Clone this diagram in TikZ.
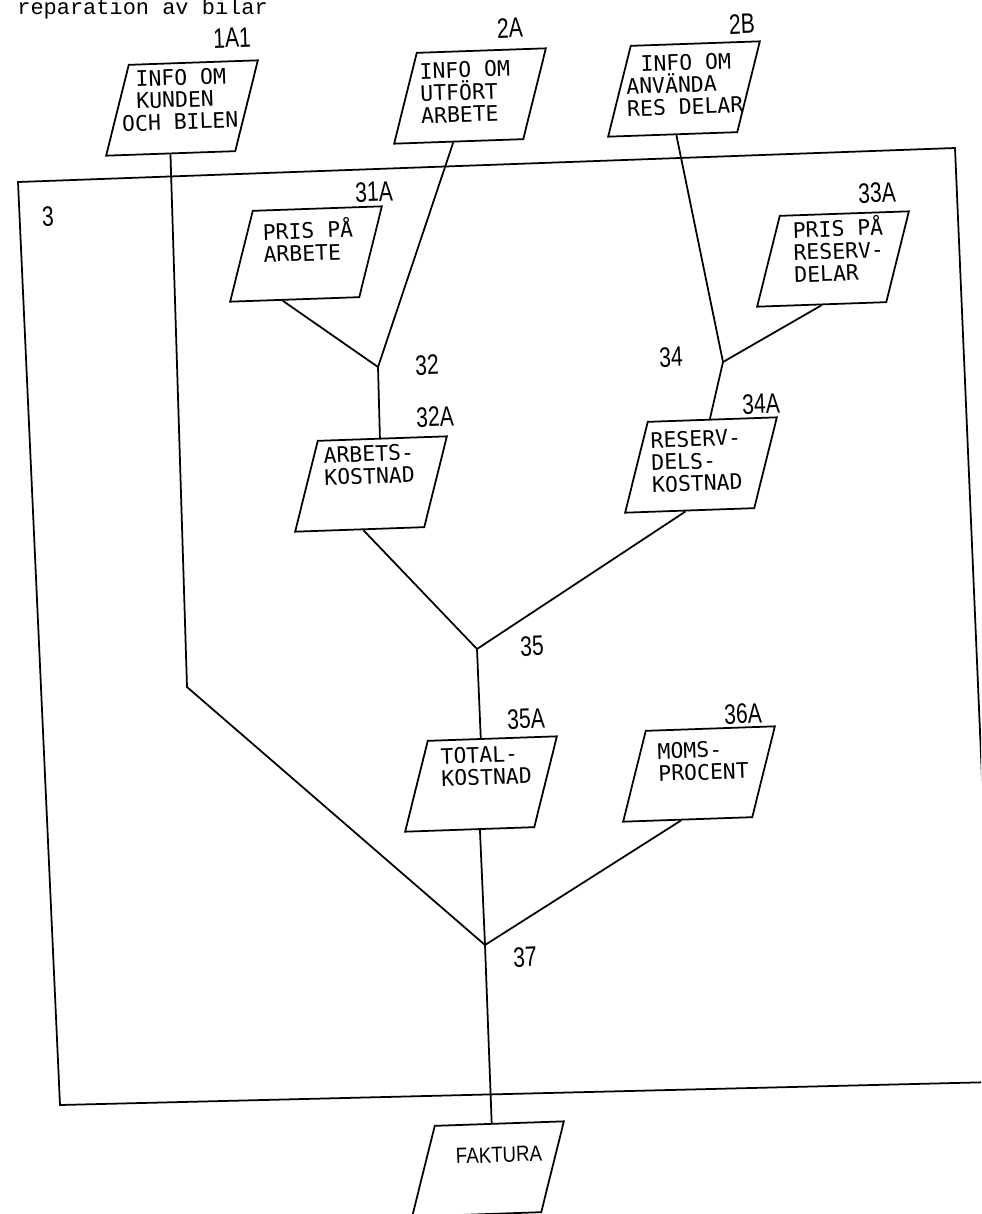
\documentclass[tikz,border=0pt]{standalone}
\usepackage{fontspec}
\usetikzlibrary{shapes.geometric,calc}
\newfontfamily\boxfont{DejaVu Sans Mono}
\newfontfamily\idfont[FakeStretch=0.75]{Liberation Sans}
\newfontfamily\faktfont[FakeStretch=0.85]{Liberation Sans}
\newfontfamily\typefont{Liberation Mono}

\tikzset{
  databox/.style={draw, line width=1pt, shape=trapezium, trapezium left angle=76,
    trapezium right angle=104, trapezium stretches=true,
    minimum width=3.1cm, minimum height=1.8cm, inner sep=2pt, rotate=2},
  boxtext/.style={font=\boxfont\fontsize{12.2}{12.6}\selectfont, align=left,
    anchor=north west, inner sep=0pt, rotate=2},
  idlabel/.style={font=\idfont\fontsize{16}{16}\selectfont, inner sep=0pt, rotate=2},
  flow/.style={line width=1pt},
}

\begin{document}
\begin{tikzpicture}[x=0.02cm,y=-0.02cm]
\useasboundingbox (0,0) rectangle (981,1214);
\clip (0,0) rectangle (981,1214);

% heading, cut off at the top of the page
\node[font=\typefont\fontsize{12.5}{12.5}\selectfont, anchor=base west, inner sep=0pt] (title) at (17,14) {reparation av bilar};

% data boxes
\node[databox] (b1A1) at (182,108) {};
\node[databox] (b2A) at (470,96) {};
\node[databox] (b2B) at (684,89) {};
\node[databox] (b31A) at (306,254) {};
\node[databox] (b33A) at (833,259) {};
\node[databox] (b32A) at (371,484) {};
\node[databox] (b34A) at (701,465) {};
\node[databox] (b35A) at (481,784) {};
\node[databox] (b36A) at (699,774) {};
\node[databox] (bfakt) at (488,1169) {};

\node[boxtext] (t1A1) at (120,71) {\hspace*{0.3cm}INFO OM\\\hspace*{0.3cm}KUNDEN\\OCH BILEN};
\node[boxtext] (t2A) at (419,63) {INFO OM\\UTFÖRT\\ARBETE};
\node[boxtext] (t2B) at (625,56) {\hspace*{0.3cm}INFO OM\\ANVÄNDA\\RES DELAR};
\node[boxtext] (t31A) at (262,220) {PRIS PÅ\\ARBETE};
\node[boxtext] (t33A) at (792,218) {PRIS PÅ\\RESERV-\\DELAR};
\node[boxtext] (t32A) at (323,447) {ARBETS-\\KOSTNAD};
\node[boxtext] (t34A) at (650,432) {RESERV-\\DELS-\\KOSTNAD};
\node[boxtext] (t35A) at (440,748) {TOTAL-\\KOSTNAD};
\node[boxtext] (t36A) at (657,743) {MOMS-\\PROCENT};
\node[font=\faktfont\fontsize{12.5}{12.5}\selectfont, inner sep=0pt, rotate=2] (tfakt) at (499,1155) {FAKTURA};

% numbers
\node[idlabel] (l1A1) at (232,38) {1A1};
\node[idlabel] (l2A) at (510,28) {2A};
\node[idlabel] (l2B) at (742,24) {2B};
\node[idlabel] (l31A) at (374,192) {31A};
\node[idlabel] (l33A) at (877,193) {33A};
\node[idlabel] (l32) at (427,365) {32};
\node[idlabel] (l34) at (671,357) {34};
\node[idlabel] (l32A) at (435,417) {32A};
\node[idlabel] (l34A) at (761,404) {34A};
\node[idlabel] (l35) at (532,646) {35};
\node[idlabel] (l35A) at (526,719) {35A};
\node[idlabel] (l36A) at (743,714) {36A};
\node[idlabel] (l37) at (525,957) {37};

% process 3
\coordinate (p3nw) at (18,182);
\coordinate (p3ne) at (955,148);
\coordinate (p3se) at (995,1082);
\coordinate (p3sw) at (60,1105);
\draw[flow] (p3nw) -- (p3ne) -- (p3se) -- (p3sw) -- cycle;
\node[idlabel] (l3) at (48,217) {3};

% junctions
\coordinate (j32) at (378,367);
\coordinate (j34) at (723,362);
\coordinate (j35) at (477,649);
\coordinate (j37) at (485,945);
\coordinate (bend) at (187,687);

\draw[flow] ($(b2A.bottom left corner)!.46!(b2A.bottom right corner)$) -- (j32);
\draw[flow] ($(b31A.bottom left corner)!.41!(b31A.bottom right corner)$) -- (j32);
\draw[flow] (j32) -- ($(b32A.top left corner)!.48!(b32A.top right corner)$);
\draw[flow] ($(b2B.bottom left corner)!.53!(b2B.bottom right corner)$) -- (j34);
\draw[flow] ($(b33A.bottom left corner)!.5!(b33A.bottom right corner)$) -- (j34);
\draw[flow] (j34) -- ($(b34A.top left corner)!.48!(b34A.top right corner)$);
\draw[flow] ($(b32A.bottom left corner)!.53!(b32A.bottom right corner)$) -- (j35);
\draw[flow] ($(b34A.bottom left corner)!.47!(b34A.bottom right corner)$) -- (j35);
\draw[flow] (j35) -- ($(b35A.top left corner)!.41!(b35A.top right corner)$);
\draw[flow] ($(b1A1.bottom left corner)!.5!(b1A1.bottom right corner)$) -- (bend) -- (j37);
\draw[flow] ($(b35A.bottom left corner)!.58!(b35A.bottom right corner)$) -- (j37);
\draw[flow] ($(b36A.bottom left corner)!.45!(b36A.bottom right corner)$) -- (j37);
\draw[flow] (j37) -- ($(bfakt.top left corner)!.44!(bfakt.top right corner)$);
\end{tikzpicture}
\end{document}
